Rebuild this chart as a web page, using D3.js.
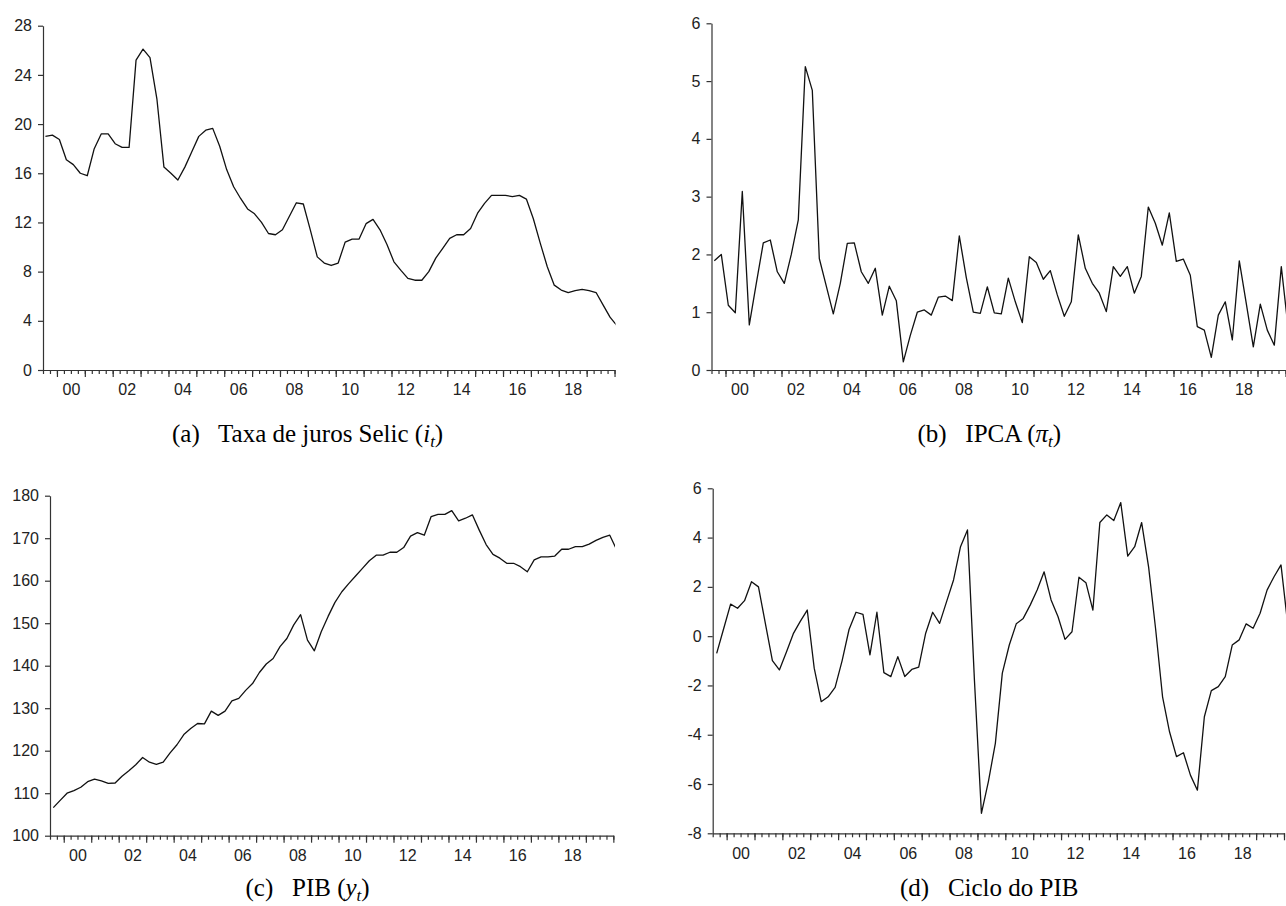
<!DOCTYPE html>
<html>
<head>
<meta charset="utf-8">
<script src="https://cdn.jsdelivr.net/npm/d3@7"></script>
<style>
  body { margin: 0; background: #fff; }
  svg { display: block; }
</style>
</head>
<body>
<div id="chart"></div>
<script>
// quarterly series, 1999Q3 .. 2020Q1 (the last point is cut by the panel edge)
var selic = [19.0, 19.1, 18.75, 17.1, 16.7, 16.0, 15.8, 18.0, 19.2, 19.2, 18.4, 18.1, 18.1, 25.2, 26.1, 25.4,
  22.0, 16.5, 16.0, 15.45, 16.5, 17.75, 19.0, 19.5, 19.65, 18.2, 16.3, 14.9, 13.95, 13.1, 12.7, 12.0,
  11.1, 11.0, 11.4, 12.5, 13.6, 13.5, 11.4, 9.2, 8.7, 8.5, 8.7, 10.4, 10.65, 10.65, 11.9, 12.25,
  11.4, 10.2, 8.8, 8.1, 7.45, 7.3, 7.3, 8.0, 9.1, 9.9, 10.7, 11.0, 11.0, 11.5, 12.75, 13.55,
  14.2, 14.2, 14.2, 14.1, 14.2, 13.9, 12.3, 10.3, 8.4, 6.9, 6.5, 6.3, 6.45, 6.55, 6.45, 6.3,
  5.3, 4.3, 3.6];

var ipca = [1.89, 2.0, 1.12, 0.99, 3.09, 0.78, 1.5, 2.2, 2.25, 1.7, 1.5, 2.0, 2.6, 5.25, 4.84, 1.93,
  1.45, 0.97, 1.5, 2.19, 2.2, 1.7, 1.5, 1.76, 0.95, 1.45, 1.2, 0.14, 0.6, 1.0, 1.04, 0.95,
  1.26, 1.28, 1.2, 2.32, 1.6, 1.0, 0.98, 1.44, 0.99, 0.97, 1.59, 1.18, 0.82, 1.96, 1.86, 1.57,
  1.72, 1.3, 0.93, 1.18, 2.34, 1.76, 1.5, 1.33, 1.01, 1.79, 1.62, 1.79, 1.33, 1.62, 2.82, 2.54,
  2.16, 2.72, 1.88, 1.92, 1.64, 0.75, 0.69, 0.22, 0.95, 1.18, 0.52, 1.89, 1.15, 0.4, 1.14, 0.69,
  0.43, 1.79, 0.7];

var pib = [106.6, 108.3, 110.0, 110.6, 111.4, 112.7, 113.3, 112.9, 112.3, 112.4, 114.0, 115.3, 116.7, 118.4, 117.3, 116.8,
  117.3, 119.5, 121.4, 123.8, 125.2, 126.4, 126.3, 129.3, 128.3, 129.3, 131.7, 132.3, 134.2, 135.8, 138.4, 140.4,
  141.7, 144.5, 146.4, 149.6, 152.0, 146.0, 143.5, 148.0, 151.6, 154.9, 157.4, 159.3, 161.1, 162.9, 164.7, 166.0,
  166.0, 166.7, 166.7, 167.8, 170.5, 171.3, 170.7, 175.1, 175.6, 175.6, 176.5, 174.1, 174.7, 175.5, 171.9, 168.5,
  166.2, 165.3, 164.1, 164.1, 163.3, 162.1, 164.9, 165.6, 165.6, 165.8, 167.4, 167.4, 168.0, 168.0, 168.6, 169.5,
  170.2, 170.7, 167.3];

var ciclo = [-0.7, 0.3, 1.3, 1.13, 1.44, 2.21, 2.0, 0.5, -0.99, -1.37, -0.65, 0.1, 0.6, 1.06, -1.3, -2.66,
  -2.46, -2.08, -1.0, 0.27, 0.97, 0.88, -0.76, 0.97, -1.48, -1.64, -0.83, -1.64, -1.35, -1.26, 0.12, 0.97,
  0.52, 1.4, 2.28, 3.63, 4.31, -1.8, -7.19, -5.9, -4.35, -1.5, -0.36, 0.5, 0.72, 1.26, 1.87, 2.61,
  1.47, 0.79, -0.13, 0.18, 2.39, 2.17, 1.06, 4.61, 4.92, 4.69, 5.42, 3.25, 3.63, 4.61, 2.8, 0.3,
  -2.46, -3.88, -4.89, -4.73, -5.64, -6.25, -3.27, -2.21, -2.05, -1.64, -0.36, -0.15, 0.5, 0.32, 0.93, 1.87,
  2.41, 2.89, 0.4];

var yearLabels = ["00", "02", "04", "06", "08", "10", "12", "14", "16", "18"];
var selicTicks = [0, 4, 8, 12, 16, 20, 24, 28];
var ipcaTicks = [0, 1, 2, 3, 4, 5, 6];
var pibTicks = [100, 110, 120, 130, 140, 150, 160, 170, 180];
var cicloTicks = [-8, -6, -4, -2, 0, 2, 4, 6];

var svg = d3.select("#chart")
  .append("svg")
  .attr("width", 1286)
  .attr("height", 906);

function styleAxis(sel) {
  sel.selectAll("path, line").attr("stroke", "#333").attr("stroke-width", 1.2);
  sel.selectAll("text")
    .attr("fill", "#222")
    .style("font-family", "'Liberation Sans', Arial, sans-serif")
    .style("font-size", "16px");
}

function drawPanel(p) {
  var g = svg.append("g");

  // x scale in quarters, 0 = start of 1999Q3
  var x = d3.scaleLinear()
    .domain([0, 82])
    .range([p.left, p.left + 82 * p.q]);
  var y = d3.scaleLinear()
    .domain(p.domain)
    .range([p.bottom, p.top]);

  // minor ticks, one per quarter (this one also draws the axis line)
  g.append("g")
    .attr("transform", "translate(0," + p.bottom + ")")
    .call(d3.axisBottom(x).tickValues(d3.range(0, 83)).tickSize(4).tickSizeOuter(0).tickFormat(""))
    .call(styleAxis);

  // major ticks at the start of each year
  g.append("g")
    .attr("transform", "translate(0," + p.bottom + ")")
    .call(d3.axisBottom(x).tickValues(d3.range(2, 83, 4)).tickSize(7).tickFormat(""))
    .call(styleAxis)
    .select(".domain").remove();

  // year labels, centred in the year
  g.append("g")
    .attr("transform", "translate(0," + p.bottom + ")")
    .call(d3.axisBottom(x)
      .tickValues(yearLabels.map(function (d, i) { return 4 + i * 8; }))
      .tickSize(0).tickPadding(14)
      .tickFormat(function (d, i) { return yearLabels[i]; }))
    .call(styleAxis)
    .select(".domain").remove();

  // y axis (plain hyphen for negatives, as in the original)
  g.append("g")
    .attr("transform", "translate(" + p.left + ",0)")
    .call(d3.axisLeft(y).tickValues(p.ticks).tickSize(5).tickSizeOuter(0).tickPadding(6)
      .tickFormat(function (d) { return String(d); }))
    .call(styleAxis);

  if (p.clip) {
    svg.append("clipPath").attr("id", p.id)
      .append("rect")
      .attr("x", p.left).attr("y", 0)
      .attr("width", p.clip - p.left).attr("height", 906);
  }

  var line = d3.line()
    .x(function (d, i) { return x(i + p.c); })
    .y(function (d) { return y(d); });

  g.append("path")
    .datum(p.series)
    .attr("d", line)
    .attr("fill", "none")
    .attr("stroke", "#111")
    .attr("stroke-width", 1.3)
    .attr("stroke-linejoin", "round")
    .attr("clip-path", p.clip ? "url(#" + p.id + ")" : null);
}

drawPanel({ id: "ca", series: selic, left: 43, q: 6.97, c: 0.35, bottom: 370, top: 25.7, domain: [0, 28], ticks: selicTicks, clip: 615.5 });
drawPanel({ id: "cb", series: ipca, left: 711.5, q: 7.0, c: 0.4, bottom: 370, top: 23.3, domain: [0, 6], ticks: ipcaTicks });
drawPanel({ id: "cc", series: pib, left: 50, q: 6.87, c: 0.48, bottom: 835.7, top: 495.7, domain: [100, 180], ticks: pibTicks, clip: 615 });
drawPanel({ id: "cd", series: ciclo, left: 712.7, q: 6.967, c: 0.57, bottom: 833.3, top: 488.3, domain: [-8, 6], ticks: cicloTicks });

// captions
function caption(x, y, anchor, parts) {
  var t = svg.append("text")
    .attr("x", x).attr("y", y)
    .attr("text-anchor", anchor)
    .attr("fill", "#000")
    .style("font-family", "'Liberation Serif', 'Times New Roman', serif")
    .style("font-size", "25px");
  t.append("tspan").text(parts[0]);
  if (parts.length > 1) {
    t.append("tspan").style("font-style", "italic").text(parts[1]);
    t.append("tspan").attr("dy", 5).style("font-style", "italic").style("font-size", "17px").text(parts[2]);
    t.append("tspan").attr("dy", -5).text(")");
  }
  return t;
}

var capA = caption(172, 442, "start", ["(a)\u2002 Taxa de juros Selic (", "i", "t"]);
var capD = caption(900, 896, "start", ["(d)\u2002 Ciclo do PIB"]);
var midA = 172 + capA.node().getComputedTextLength() / 2;
var midD = 900 + capD.node().getComputedTextLength() / 2;
caption(midD, 442, "middle", ["(b)\u2002 IPCA (", "\u03c0", "t"]);
caption(midA, 896, "middle", ["(c)\u2002 PIB (", "y", "t"]);
</script>
</body>
</html>
